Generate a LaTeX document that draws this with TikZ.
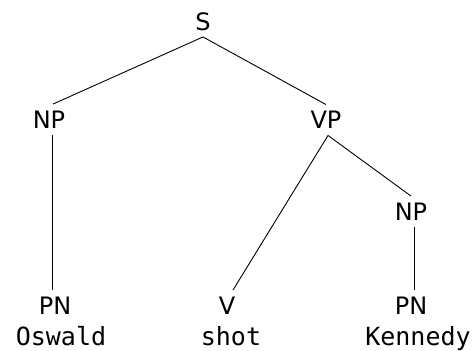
\documentclass[tikz,border=0pt]{standalone}
\usepackage{fontspec}
\setmainfont{DejaVu Sans}
\newfontfamily\wordfont{DejaVu Sans Mono}
\begin{document}
\begin{tikzpicture}[x=1pt, y=-1pt,
  cat/.style={font=\fontsize{24}{28}\selectfont, text height=17.5pt, text depth=0pt,
              inner xsep=0pt, inner ysep=6.5pt},
  word/.style={font=\wordfont\fontsize{25}{29}\selectfont, inner sep=0pt, anchor=base},
  branch/.style={line width=0.9pt, black}]
  \useasboundingbox (0,0) rectangle (475,351);

  % category labels
  \node[cat] (S)   at (203,21.5)  {S};
  \node[cat] (NP)  at (49,119.5)  {NP};
  \node[cat] (VP)  at (326,120)   {VP};
  \node[cat] (NP2) at (411,211.5) {NP};
  \node[cat] (PN)  at (55,305.5)  {PN};
  \node[cat] (V)   at (227,305.5) {V};
  \node[cat] (PN2) at (411,305.5) {PN};

  % words
  \node[word] (w1) at (61,345)  {Oswald};
  \node[word] (w2) at (231,345) {shot};
  \node[word] (w3) at (418,345) {Kennedy};

  % branches
  \draw[branch] (S.south) -- ([xshift=4pt]NP.north);
  \draw[branch] (S.south) -- (VP.north);
  \draw[branch] ([xshift=3pt]NP.south) -- ([xshift=-3pt]PN.north);
  \draw[branch] ([xshift=2pt]VP.south) -- ([xshift=6pt]V.north);
  \draw[branch] ([xshift=2pt]VP.south) -- (NP2.north);
  \draw[branch] ([xshift=3pt]NP2.south) -- ([xshift=3pt]PN2.north);
\end{tikzpicture}
\end{document}
